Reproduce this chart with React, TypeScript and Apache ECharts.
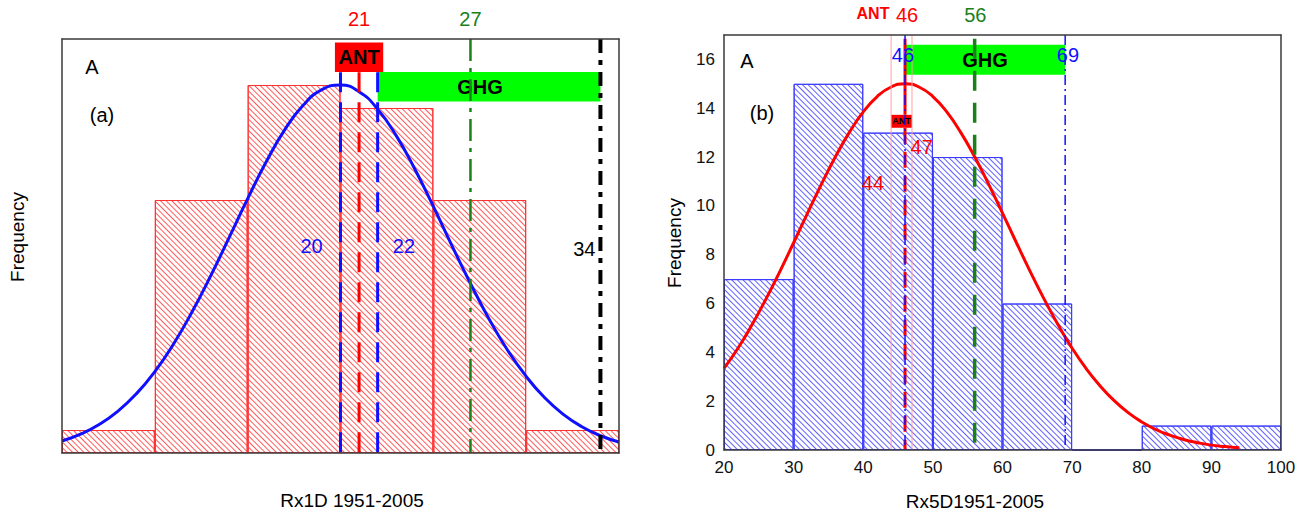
import React, { useEffect, useRef } from "react";
import * as echarts from "echarts";

// ---------- data ----------
// Panel (a): Rx1D histogram (x from 5 to 35, bin width 5)
const binsA = ["5-10", "10-15", "15-20", "20-25", "25-30", "30-35"];
const freqA = [1, 11, 16, 15, 11, 1];
const curveAX = [5, 6, 7, 8, 9, 10, 11, 12, 13, 14, 15, 16, 17, 18, 19, 20, 21, 22, 23, 24, 25, 26, 27, 28, 29, 30, 31, 32, 33, 34, 35];
const curveAY = [0.52, 0.82, 1.24, 1.81, 2.57, 3.54, 4.73, 6.13, 7.69, 9.36, 11.06, 12.66, 14.06, 15.13, 15.8, 16.0, 15.71, 14.95, 13.8, 12.35, 10.72, 9.02, 7.37, 5.83, 4.47, 3.33, 2.4, 1.68, 1.14, 0.75, 0.48];
const obsLowA = 20;
const antA = 21;
const obsHighA = 22;
const ghgA = 27;
const blackA = 34;
const antBoxA = [19.7, 22.3, 16.57, 17.85];
const ghgBoxA = [22, 34, 15.28, 16.56];

// Panel (b): Rx5D histogram (x from 20 to 100, bin width 10)
const binsB = ["20-30", "30-40", "40-50", "50-60", "60-70", "70-80", "80-90", "90-100"];
const freqB = [7, 15, 13, 12, 6, 0, 1, 1];
const curveBX = [20, 22, 24, 26, 28, 30, 32, 34, 36, 38, 40, 42, 44, 46, 48, 50, 52, 54, 56, 58, 60, 62, 64, 66, 68, 70, 72, 74, 76, 78, 80, 82, 84, 86, 88, 90, 92, 94];
const curveBY = [3.34, 4.17, 5.12, 6.17, 7.3, 8.49, 9.7, 10.89, 12.01, 13.01, 13.85, 14.48, 14.87, 15.0, 14.87, 14.48, 13.85, 13.01, 12.01, 10.89, 9.7, 8.49, 7.3, 6.17, 5.12, 4.17, 3.34, 2.63, 2.03, 1.54, 1.15, 0.84, 0.61, 0.43, 0.3, 0.2, 0.14, 0.09];
const antB = 46;
const antLoB = 44;
const antHiB = 47;
const ghgB = 56;
const ghgLoB = 46;
const ghgHiB = 69;
const ghgBoxB = [46, 69, 15.37, 16.6];
const antBoxB = [44, 47, 13.2, 13.73];
const xTicksB = [20, 30, 40, 50, 60, 70, 80, 90, 100];
const yTicksB = [0, 2, 4, 6, 8, 10, 12, 14, 16];

// annotation texts [x, y, text]
const annotA: [number, number, string][] = [
  [21, 18.88, "21"],
  [27, 18.88, "27"],
  [18.44, 8.98, "20"],
  [23.42, 8.98, "22"],
  [33.13, 8.88, "34"],
];
const annotB: [number, number, string][] = [
  [41.4, 17.87, "ANT"],
  [46.3, 17.83, "46"],
  [56.1, 17.83, "56"],
  [45.7, 16.19, "46"],
  [69.4, 16.19, "69"],
  [48.4, 12.43, "47"],
  [41.4, 10.95, "44"],
];

// ---------- styles ----------
const FONT = "'Liberation Sans', Arial, Helvetica, sans-serif";
const RED = "#ff0000";
const BLUE = "#1010ff";
const GREEN = "#1a801a";
const FRAME = "#3a3a3a";
const annotStylesA = [
  { color: RED, fontSize: 20 },
  { color: GREEN, fontSize: 20 },
  { color: BLUE, fontSize: 20 },
  { color: BLUE, fontSize: 20 },
  { color: "#000", fontSize: 20 },
];
const annotStylesB = [
  { color: RED, fontSize: 16, fontWeight: "bold" },
  { color: RED, fontSize: 20 },
  { color: GREEN, fontSize: 20 },
  { color: BLUE, fontSize: 20 },
  { color: BLUE, fontSize: 20 },
  { color: RED, fontSize: 20 },
  { color: RED, fontSize: 20 },
];

function vline(x: number, y0: number, y1: number, xi: number, yi: number, color: string, width: number, dash: any, z = 4) {
  return {
    type: "line",
    xAxisIndex: xi,
    yAxisIndex: yi,
    data: [[x, y0], [x, y1]],
    symbol: "none",
    silent: true,
    z,
    lineStyle: { color, width, type: dash, cap: "butt" },
  };
}

function box(b: number[], xi: number, yi: number, color: string, name: string, fontSize: number, offset: number[] = [0, 0]) {
  return {
    type: "line",
    xAxisIndex: xi,
    yAxisIndex: yi,
    data: [],
    silent: true,
    z: 3,
    markArea: {
      silent: true,
      z: 1,
      data: [
        [
          {
            name,
            coord: [b[0], b[3]],
            itemStyle: { color, opacity: 1 },
            label: { show: true, position: "inside", color: "#000", fontWeight: "bold", fontSize, fontFamily: FONT, offset },
          },
          { coord: [b[1], b[2]] },
        ],
      ],
    },
  };
}

function annotSeries(list: [number, number, string][], styles: any[], xi: number, yi: number) {
  return {
    type: "scatter",
    xAxisIndex: xi,
    yAxisIndex: yi,
    clip: false,
    silent: true,
    z: 6,
    symbolSize: 1,
    itemStyle: { color: "rgba(0,0,0,0)", opacity: 1 },
    data: list.map((d, i) => ({
      value: [d[0], d[1]],
      label: {
        show: true,
        position: "inside",
        formatter: d[2],
        fontFamily: FONT,
        opacity: 1,
        ...styles[i],
      },
    })),
  };
}

const frameAxis = { show: true, lineStyle: { color: FRAME, width: 1.5 }, onZero: false };

export default function App() {
  const ref = useRef<HTMLDivElement>(null);
  useEffect(() => {
    if (!ref.current) return;
    const chart = echarts.init(ref.current, null, { renderer: "svg" });
    const hatchA = {
      symbol: "rect",
      symbolSize: 1,
      dashArrayX: [1, 0],
      dashArrayY: [1, 3],
      rotation: Math.PI / 4,
      color: "#ff5a5a",
    };
    const hatchB = {
      symbol: "rect",
      symbolSize: 1,
      dashArrayX: [1, 0],
      dashArrayY: [1, 3],
      rotation: Math.PI / 4,
      color: "#6060ff",
    };
    const option: any = {
      animation: false,
      backgroundColor: "#fff",
      textStyle: { fontFamily: FONT },
      grid: [
        { left: 62, top: 39, width: 557, height: 414 },
        { left: 724, top: 35, width: 557, height: 415 },
      ],
      xAxis: [
        { type: "category", gridIndex: 0, data: binsA, position: "top", boundaryGap: true, axisLine: frameAxis, axisTick: { show: false }, axisLabel: { show: false }, z: 10 },
        { type: "value", gridIndex: 0, min: 5, max: 35, position: "bottom", axisLine: frameAxis, axisTick: { show: false }, axisLabel: { show: false }, splitLine: { show: false }, z: 10 },
        { type: "category", gridIndex: 1, data: binsB, position: "top", boundaryGap: true, axisLine: frameAxis, axisTick: { show: false }, axisLabel: { show: false }, z: 10 },
        {
          type: "value", gridIndex: 1, min: xTicksB[0], max: xTicksB[xTicksB.length - 1], interval: 10, position: "bottom",
          axisLine: frameAxis, axisTick: { show: false }, splitLine: { show: false }, z: 10,
          axisLabel: { show: true, color: "#111", fontSize: 17, margin: 9, fontFamily: FONT },
        },
      ],
      yAxis: [
        { type: "value", gridIndex: 0, min: 0, max: 18, position: "left", axisLine: frameAxis, axisTick: { show: false }, axisLabel: { show: false }, splitLine: { show: false }, z: 10 },
        { type: "value", gridIndex: 0, min: 0, max: 18, position: "right", axisLine: frameAxis, axisTick: { show: false }, axisLabel: { show: false }, splitLine: { show: false }, z: 10 },
        {
          type: "value", gridIndex: 1, min: yTicksB[0], max: 17, interval: 2, position: "left",
          axisLine: frameAxis, axisTick: { show: false }, splitLine: { show: false }, z: 10,
          axisLabel: { show: true, color: "#111", fontSize: 17, margin: 9, showMaxLabel: false, fontFamily: FONT },
        },
        { type: "value", gridIndex: 1, min: 0, max: 17, position: "right", axisLine: frameAxis, axisTick: { show: false }, axisLabel: { show: false }, splitLine: { show: false }, z: 10 },
      ],
      graphic: [
        { type: "text", x: 92, y: 67, style: { text: "A", fill: "#000", fontSize: 20, fontFamily: FONT, align: "center", verticalAlign: "middle" } },
        { type: "text", x: 102, y: 115, style: { text: "(a)", fill: "#000", fontSize: 20, fontFamily: FONT, align: "center", verticalAlign: "middle" } },
        { type: "text", x: 17, y: 237, rotation: Math.PI / 2, style: { text: "Frequency", fill: "#000", fontSize: 19, fontFamily: FONT, align: "center", verticalAlign: "middle" } },
        { type: "text", x: 352, y: 500, style: { text: "Rx1D 1951-2005", fill: "#000", fontSize: 19, fontFamily: FONT, align: "center", verticalAlign: "middle" } },
        { type: "text", x: 747, y: 61, style: { text: "A", fill: "#000", fontSize: 20, fontFamily: FONT, align: "center", verticalAlign: "middle" } },
        { type: "text", x: 762, y: 113, style: { text: "(b)", fill: "#000", fontSize: 20, fontFamily: FONT, align: "center", verticalAlign: "middle" } },
        { type: "text", x: 674, y: 243, rotation: Math.PI / 2, style: { text: "Frequency", fill: "#000", fontSize: 19, fontFamily: FONT, align: "center", verticalAlign: "middle" } },
        { type: "text", x: 975, y: 501, style: { text: "Rx5D1951-2005", fill: "#000", fontSize: 19, fontFamily: FONT, align: "center", verticalAlign: "middle" } },
      ],
      series: [
        // ---- panel (a) ----
        {
          type: "bar", xAxisIndex: 0, yAxisIndex: 0, data: freqA, barCategoryGap: "0%", silent: true, z: 2,
          itemStyle: { color: "#ffffff", borderColor: "#ff3030", borderWidth: 1, decal: hatchA },
        },
        box(antBoxA, 1, 0, "#ff0000", "ANT", 20),
        box(ghgBoxA, 1, 0, "#00ff00", "GHG", 20, [-9, 0]),
        {
          type: "line", xAxisIndex: 1, yAxisIndex: 0, data: curveAX.map((x, i) => [x, curveAY[i]]),
          smooth: true, symbol: "none", silent: true, z: 3, lineStyle: { color: BLUE, width: 3 },
        },
        vline(obsLowA, 16.55, 0, 1, 0, BLUE, 3, [20, 10]),
        vline(antA, 16.55, 0, 1, 0, RED, 3, [20, 10]),
        vline(obsHighA, 16.55, 0, 1, 0, BLUE, 3, [20, 10]),
        vline(ghgA, 18, 0, 1, 0, GREEN, 2.5, [22, 7, 4, 7]),
        vline(blackA, 18, 0, 1, 0, "#000", 4, [14, 7, 5, 7]),
        annotSeries(annotA, annotStylesA, 1, 0),

        // ---- panel (b) ----
        {
          type: "bar", xAxisIndex: 2, yAxisIndex: 2, data: freqB, barCategoryGap: "0%", silent: true, z: 2,
          itemStyle: { color: "#ffffff", borderColor: "#3a3aff", borderWidth: 1, decal: hatchB },
        },
        box(ghgBoxB, 3, 2, "#00ff00", "GHG", 20),
        box(antBoxB, 3, 2, "#ff0000", "ANT", 9),
        vline(antLoB, 17, 0, 3, 2, "#ffa0a0", 1, "solid"),
        vline(antHiB, 17, 0, 3, 2, "#ffa0a0", 1, "solid"),
        {
          type: "line", xAxisIndex: 3, yAxisIndex: 2, data: curveBX.map((x, i) => [x, curveBY[i]]),
          smooth: true, symbol: "none", silent: true, z: 3, lineStyle: { color: "#ff0000", width: 3 },
        },
        vline(antB, 16.85, antBoxB[3], 3, 2, "#ff0000", 3, "solid"),
        vline(antB, antBoxB[2], 0, 3, 2, "#ff0000", 3, [16, 8]),
        vline(ghgB, 16.85, 0, 3, 2, GREEN, 3.5, [20, 12]),
        vline(ghgLoB, 17, 0, 3, 2, BLUE, 1.5, [10, 4, 2, 4]),
        vline(ghgHiB, 17, 0, 3, 2, BLUE, 1.5, [10, 4, 2, 4]),
        annotSeries(annotB, annotStylesB, 3, 2),
      ],
    };
    chart.setOption(option);
    return () => chart.dispose();
  }, []);
  return <div ref={ref} style={{ position: "fixed", left: 0, top: 0, width: 1306, height: 515 }} />;
}
